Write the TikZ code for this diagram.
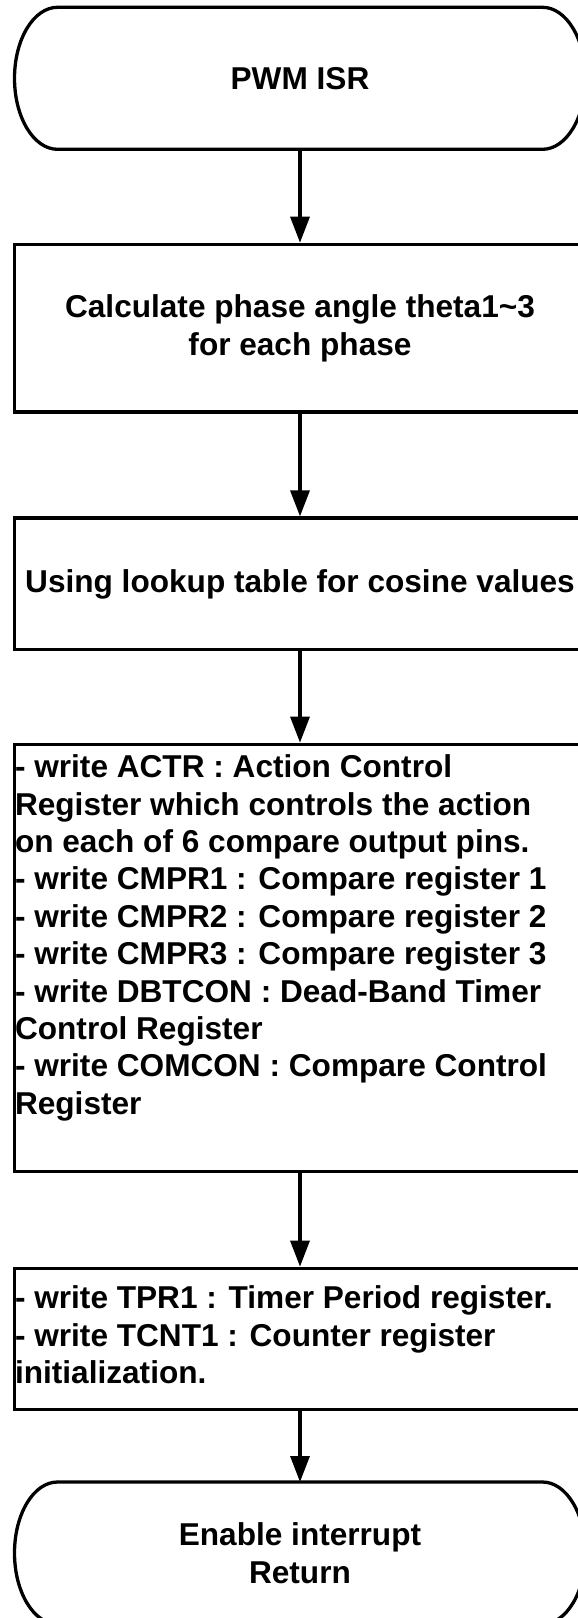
\documentclass[tikz,border=0pt]{standalone}
\usepackage{fontspec}
\setmainfont{Liberation Sans}
\usetikzlibrary{arrows.meta}

\begin{document}
\begin{tikzpicture}[x=1pt, y=1pt,
  font=\bfseries\fontsize{31.6}{37.4}\selectfont,
  blocco/.style={draw, line width=3.3pt, minimum width=570.6pt, inner sep=0pt, align=center},
  term/.style={line width=3.3pt, minimum width=571pt, minimum height=142pt, outer sep=0pt, inner sep=0pt, align=center},
  testo/.style={anchor=north west, inner sep=0pt, align=left},
  freccia/.style={line width=3.3pt, -{Triangle[length=26pt, width=19pt]}}]
  \useasboundingbox (0,0) rectangle (578,-1618);
  \clip (0,0) rectangle (578,-1618);
  % Blocchi
  \node[term] (isr) at (300,-78.3) {PWM ISR};
  \node[blocco, minimum height=167.7pt] (theta) at (300,-328.2) {Calculate phase angle theta1\textasciitilde3\\for each phase};
  \node[blocco, minimum height=131.7pt] (cosine) at (300,-583.9) {Using lookup table for cosine values};
  \node[blocco, minimum height=427.4pt] (regs) at (300,-958) {};
  \node[blocco, minimum height=141pt] (timer) at (300,-1338.8) {};
  \node[term] (ret) at (300,-1553) {Enable interrupt\\Return};
  % Testi a sinistra
  \node[testo] (regstxt) at ([xshift=1.8pt, yshift=-12pt]regs.north west)
    {- write ACTR : Action Control\\Register which controls the action\\on each of 6 compare output pins.\\- write CMPR1 : Compare register 1\\- write CMPR2 : Compare register 2\\- write CMPR3 : Compare register 3\\- write DBTCON : Dead-Band Timer\\Control Register\\- write COMCON : Compare Control\\Register};
  \node[testo] (timertxt) at ([xshift=1.8pt, yshift=-19pt]timer.north west)
    {- write TPR1 : Timer Period register.\\- write TCNT1 : Counter register\\initialization.};
  % Terminali
  \foreach \t in {isr, ret}
    \draw[line width=3.3pt] ([xshift=43pt]\t.north west) -- ([xshift=-43pt]\t.north east)
      arc[start angle=90, end angle=-90, x radius=43pt, y radius=71pt]
      -- ([xshift=43pt]\t.south west)
      arc[start angle=270, end angle=90, x radius=43pt, y radius=71pt] -- cycle;
  % Frecce
  \draw[freccia] (isr.south) -- (theta.north);
  \draw[freccia] (theta.south) -- (cosine.north);
  \draw[freccia] (cosine.south) -- (regs.north);
  \draw[freccia] (regs.south) -- (timer.north);
  \draw[freccia] (timer.south) -- (ret.north);
\end{tikzpicture}
\end{document}
